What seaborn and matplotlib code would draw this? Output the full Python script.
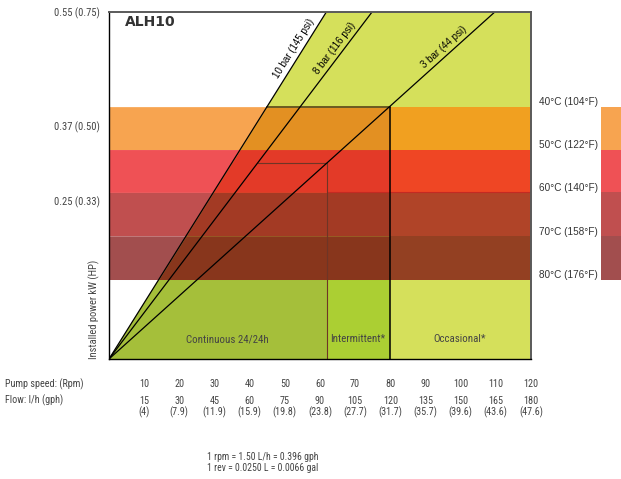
import numpy as np
import pandas as pd
import seaborn as sns
import matplotlib.pyplot as plt
from matplotlib import font_manager


def pick_font(names):
    # first installed family from the list
    for n in names:
        try:
            font_manager.findfont(n, fallback_to_default=False)
            return n
        except ValueError:
            pass
    return 'DejaVu Sans'


NARROW = pick_font(['Liberation Sans Narrow', 'Roboto Condensed', 'Liberation Sans'])
ARIAL = pick_font(['Liberation Sans', 'DejaVu Sans'])

# pump speed / flow table
rpm_ticks = [10, 20, 30, 40, 50, 60, 70, 80, 90, 100, 110, 120]
flow_lh = ['15', '30', '45', '60', '75', '90', '105', '120', '135', '150', '165', '180']
flow_gph = ['(4)', '(7.9)', '(11.9)', '(15.9)', '(19.8)', '(23.8)', '(27.7)',
            '(31.7)', '(35.7)', '(39.6)', '(43.6)', '(47.6)']

# pressure lines: rpm where each line reaches the top of the chart
kw_max = 0.55
pressure_labels = ['10 bar (145 psi)', '8 bar (116 psi)', '3 bar (44 psi)']
pressure_rpm_at_top = [61.8, 74.8, 109.7]

ytick_vals = [0.25, 0.37, 0.55]
ytick_labels = ['0.25 (0.33)', '0.37 (0.50)', '0.55 (0.75)']

# temperature limits (kW)
temp_labels = ['40°C (104°F)', '50°C (122°F)', '60°C (140°F)', '70°C (158°F)', '80°C (176°F)']
temp_kw = [0.40, 0.332, 0.264, 0.195, 0.126]
band_light = ['#f7a450', '#ef5155', '#c04f4f', '#a24e4e']
band_mid = ['#e39022', '#e33a28', '#a33a24', '#88361c']
band_right = ['#f1a020', '#ef4624', '#b04428', '#934022']

# duty zones
zone_labels = ['Continuous 24/24h', 'Intermittent*', 'Occasional*']
zone_rpm_limits = [62, 80, 120]
zone_colors = ['#a5bf3a', '#abcf33', '#d5e05b']

sns.set_style('white')
plt.rcParams['font.family'] = [NARROW, 'DejaVu Sans']

fig = plt.figure(figsize=(6.21, 4.79), dpi=100)
ax = fig.add_axes([109 / 621, 1 - 359 / 479, 422 / 621, 347 / 479])
ax.set_xlim(0, 120)
ax.set_ylim(0, kw_max)

slope = {lab: kw_max / r for lab, r in zip(pressure_labels, pressure_rpm_at_top)}
k10, k8, k3 = [slope[l] for l in pressure_labels]
y_int = k3 * zone_rpm_limits[0]
y_occ = temp_kw[0]

# green duty zones
ax.fill([0, pressure_rpm_at_top[0], 120, 120], [0, kw_max, kw_max, 0],
        color=zone_colors[2], lw=0, zorder=1)
ax.fill([zone_rpm_limits[0], zone_rpm_limits[0], zone_rpm_limits[1], zone_rpm_limits[1]],
        [0, y_occ, y_occ, 0], color=zone_colors[1], lw=0, zorder=1.1)
ax.fill([0, y_int / k10, zone_rpm_limits[0], zone_rpm_limits[0]],
        [0, y_int, y_int, 0], color=zone_colors[0], lw=0, zorder=1.2)

# temperature bands
for i in range(4):
    ys = np.array([temp_kw[i + 1], temp_kw[i]])
    x10 = ys / k10
    ax.fill_betweenx(ys, 0, x10, color=band_light[i], lw=0, zorder=2)
    ax.fill_betweenx(ys, x10, zone_rpm_limits[1], color=band_mid[i], lw=0, zorder=2)
    ax.fill_betweenx(ys, zone_rpm_limits[1], 120, color=band_right[i], lw=0, zorder=2)
    # swatch on the right edge
    sw = ax.fill_betweenx(ys, 139.9, 146, color=band_light[i], lw=0, zorder=2)
    sw.set_clip_on(False)

ax.plot([zone_rpm_limits[0], 120], [temp_kw[2]] * 2, color='#c42a22', lw=0.8, zorder=2.5)

# zone outlines
ax.plot([y_int / k8, zone_rpm_limits[0], zone_rpm_limits[0]], [y_int, y_int, 0],
        color='#6e3526', lw=0.8, zorder=3)
ax.plot([y_occ / k10, zone_rpm_limits[1]], [y_occ, y_occ], color='#6b5a22', lw=1.4, zorder=3)
ax.plot([zone_rpm_limits[1], zone_rpm_limits[1]], [y_occ, 0], color='black', lw=1.1, zorder=3)

# pressure lines
lines = pd.DataFrame({
    'rpm': [v for r in pressure_rpm_at_top for v in (0, r)],
    'kw': [v for _ in pressure_rpm_at_top for v in (0, kw_max)],
    'line': [l for l in pressure_labels for _ in range(2)],
})
sns.lineplot(data=lines, x='rpm', y='kw', units='line', estimator=None,
             color='black', lw=0.9, ax=ax, zorder=4, legend=False)

fig.canvas.draw()
for lab, r in zip(pressure_labels, pressure_rpm_at_top):
    p0 = ax.transData.transform((0, 0))
    p1 = ax.transData.transform((r, kw_max))
    a = np.arctan2(p1[1] - p0[1], p1[0] - p0[0])
    yk = 0.485
    ax.annotate(lab, (yk / slope[lab], yk), xytext=(-np.sin(a) * 2.0, np.cos(a) * 2.0),
                textcoords='offset points', rotation=np.degrees(a), rotation_mode='anchor',
                ha='center', va='bottom', fontsize=7, family=ARIAL, color='black', zorder=5)

# zone names
for lab, xc in zip(zone_labels, [33.6, 70.7, 99.7]):
    ax.text(xc, 0.0317, lab, ha='center', va='center', fontsize=7.8, color='#444444', zorder=5)

ax.text(4.6, 0.534, 'ALH10', ha='left', va='center', fontsize=10, fontweight='bold',
        family='DejaVu Sans', color='#333333')

# temperature labels
for lab, y in zip(temp_labels, temp_kw):
    ax.text(122.2, y + 0.0068, lab, ha='left', va='center', fontsize=7.2,
            family=ARIAL, color='#333333')

# axes styling
ax.set_xticks(rpm_ticks)
ax.set_xticklabels([])
ax.set_yticks(ytick_vals)
ax.set_yticklabels(ytick_labels, fontsize=7.6, color='#444444')
ax.tick_params(axis='both', direction='out', length=3.5, width=0.8, color='#222222', pad=3)
ax.set_xlabel('')
ax.set_ylabel('')
for side in ['left', 'bottom']:
    ax.spines[side].set_color('black')
    ax.spines[side].set_linewidth(1.0)
for side in ['top', 'right']:
    ax.spines[side].set_color('#5a5a5a')
    ax.spines[side].set_linewidth(1.4)
for s in ax.spines.values():
    s.set_zorder(6)

ax.text(-4.3, 0.0, 'Installed power kW (HP)', rotation=90, ha='center', va='bottom',
        fontsize=7.6, color='#444444')

# pump speed / flow rows below the chart
ax.text(-29.6, -0.0396, 'Pump speed: (Rpm)', ha='left', va='center', fontsize=7.3, color='#444444')
ax.text(-29.6, -0.0661, 'Flow: l/h (gph)', ha='left', va='center', fontsize=7.3, color='#444444')
for r, lh, g in zip(rpm_ticks, flow_lh, flow_gph):
    ax.text(r, -0.0396, str(r), ha='center', va='center', fontsize=7.3, color='#444444')
    ax.text(r, -0.0661, lh, ha='center', va='center', fontsize=7.3, color='#444444')
    ax.text(r, -0.0851, g, ha='center', va='center', fontsize=7.3, color='#444444')

ax.text(27.9, -0.1553, '1 rpm = 1.50 L/h = 0.396 gph', ha='left', va='center', fontsize=7, color='#444444')
ax.text(27.9, -0.1727, '1 rev = 0.0250 L = 0.0066 gal', ha='left', va='center', fontsize=7, color='#444444')

fig.savefig('out.png', dpi=100)
